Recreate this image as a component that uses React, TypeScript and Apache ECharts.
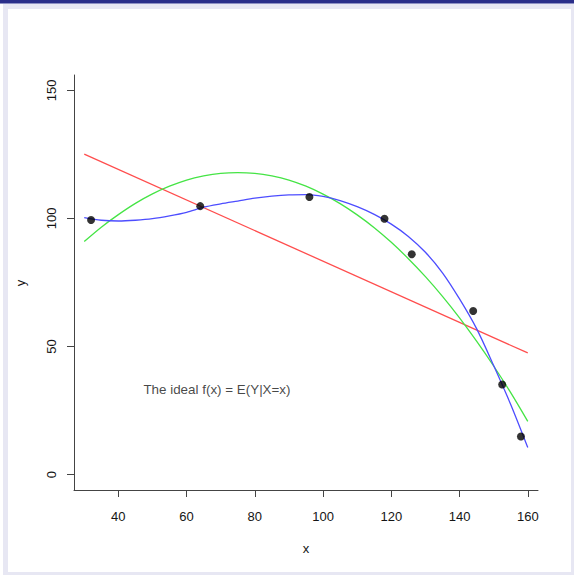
import React, { useEffect, useRef } from "react";
import * as echarts from "echarts";

// Observed points
const pointX = [32, 64, 96, 118, 126, 144, 152.5, 158];
const pointY = [99.4, 104.8, 108.4, 99.9, 86.0, 63.9, 35.2, 14.9];

// Linear fit (red), read at the two ends of the drawn segment
const redX = [30, 160];
const redY = [125.1, 47.5];

// Quadratic fit (green)
const greenX = [30, 35, 40, 45, 50, 55, 60, 65, 70, 75, 80, 85, 90, 95, 100, 105, 110, 115, 120, 125, 130, 135, 140, 145, 150, 155, 160];
const greenY = [91.0, 96.6, 101.5, 105.9, 109.6, 112.6, 115.0, 116.6, 117.6, 117.9, 117.6, 116.6, 115.0, 112.6, 109.5, 105.8, 101.4, 96.4, 90.7, 84.3, 77.3, 69.6, 61.2, 52.1, 42.4, 32.0, 20.8];

// Ideal f(x) (blue)
const blueX = [30, 35, 40, 45, 50, 55, 60, 65, 70, 75, 80, 85, 90, 95, 100, 105, 110, 115, 120, 125, 130, 135, 140, 145, 150, 155, 160];
const blueY = [100.3, 99.3, 99.0, 99.3, 99.9, 101.0, 102.4, 104.4, 105.7, 106.8, 107.9, 108.7, 109.2, 109.3, 108.6, 107.0, 104.6, 101.6, 97.8, 93.0, 86.8, 78.8, 68.6, 57.0, 42.6, 27.4, 10.6];

// Ticks
const xTicks = [40, 60, 80, 100, 120, 140, 160];
const yTicks = [0, 50, 100, 150];

const annotation = { x: 68.9, y: 33.4, text: "The ideal f(x) = E(Y|X=x)" };

const FONT = "'Liberation Sans', Arial, Helvetica, sans-serif";

export default function App() {
  const ref = useRef<HTMLDivElement>(null);

  useEffect(() => {
    if (!ref.current) return;
    const chart = echarts.init(ref.current, undefined, { renderer: "svg" });
    const pairs = (xs: number[], ys: number[]) => xs.map((x, i) => [x, ys[i]]);
    const axisColor = "#444";
    const labelColor = "#151515";
    chart.setOption({
      animation: false,
      backgroundColor: "transparent",
      grid: { left: 74, right: 36, top: 75, bottom: 85, containLabel: false },
      xAxis: {
        type: "value",
        min: 27,
        max: 163,
        axisLine: { show: true, onZero: false, lineStyle: { color: axisColor, width: 1 } },
        axisTick: { show: true, length: 7, customValues: xTicks, lineStyle: { color: axisColor } },
        axisLabel: { customValues: xTicks, margin: 20, fontSize: 13, color: labelColor, fontFamily: FONT },
        splitLine: { show: false },
      },
      yAxis: {
        type: "value",
        min: -6,
        max: 156,
        axisLine: { show: true, onZero: false, lineStyle: { color: axisColor, width: 1 } },
        axisTick: { show: true, length: 7, customValues: yTicks, lineStyle: { color: axisColor } },
        axisLabel: { customValues: yTicks, rotate: 90, margin: 16, fontSize: 13, color: labelColor, fontFamily: FONT },
        splitLine: { show: false },
      },
      graphic: [
        {
          type: "text",
          x: 306,
          y: 548,
          style: { text: "x", font: `13px ${FONT}`, fill: labelColor, textAlign: "center", textVerticalAlign: "middle" },
        },
        {
          type: "text",
          x: 20,
          y: 283,
          rotation: Math.PI / 2,
          style: { text: "y", font: `13px ${FONT}`, fill: labelColor, textAlign: "center", textVerticalAlign: "middle" },
        },
      ],
      series: [
        {
          type: "line",
          data: pairs(redX, redY),
          showSymbol: false,
          lineStyle: { color: "#ff4d4d", width: 1.3 },
          z: 2,
        },
        {
          type: "line",
          data: pairs(greenX, greenY),
          smooth: 0.3,
          showSymbol: false,
          lineStyle: { color: "#45e445", width: 1.3 },
          z: 2,
        },
        {
          type: "line",
          data: pairs(blueX, blueY),
          smooth: 0.3,
          showSymbol: false,
          lineStyle: { color: "#4d4dff", width: 1.3 },
          z: 3,
        },
        {
          type: "scatter",
          data: pairs(pointX, pointY),
          symbol: "circle",
          symbolSize: 8,
          itemStyle: { color: "#000" },
          z: 4,
        },
        {
          type: "scatter",
          data: [[annotation.x, annotation.y]],
          symbolSize: 1,
          itemStyle: { color: "transparent" },
          label: {
            show: true,
            position: "inside",
            formatter: annotation.text,
            fontSize: 13.4,
            color: labelColor,
            fontFamily: FONT,
          },
          z: 5,
        },
      ],
    });
    return () => chart.dispose();
  }, []);

  return (
    <div style={{ position: "fixed", left: 0, top: 0, width: 574, height: 575, background: "#ffffff", overflow: "hidden" }}>
      <div style={{ position: "absolute", left: 3, top: 4, width: 571, height: 571, background: "#e7e7f3" }} />
      <div style={{ position: "absolute", left: 8, top: 9, width: 563, height: 563, background: "#ffffff" }} />
      <div style={{ position: "absolute", left: 0, top: 0, width: 574, height: 3, background: "#2a2e8a" }} />
      <div style={{ position: "absolute", left: 0, top: 3, width: 574, height: 1, background: "#8d90c4" }} />
      <div ref={ref} style={{ position: "absolute", left: 0, top: 0, width: 574, height: 575 }} />
    </div>
  );
}
